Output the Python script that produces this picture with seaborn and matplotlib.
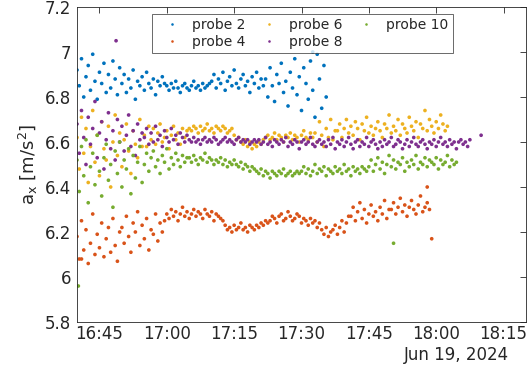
import numpy as np
import pandas as pd
import matplotlib
matplotlib.use('Agg')
import matplotlib.pyplot as plt
import seaborn as sns

# ---------------- data ----------------
series_names = ['probe 2', 'probe 4', 'probe 6', 'probe 8', 'probe 10']
series_colors = ['#0072BD', '#D95319', '#EDB120', '#7E2F8E', '#77AC30']
start_time = '2024-06-19 16:40:00'
sample_step_min = 0.5  # sampling interval (minutes)

probe2 = [6.92, 6.85, 6.97, 6.80, 6.89, 6.94, 6.83, 6.99, 6.87, 6.79, 6.91, 6.86, 6.95, 6.82, 6.90, 6.84, 6.96, 6.88, 6.81, 6.93,
          6.86, 6.90, 6.82, 6.88, 6.84, 6.92, 6.79, 6.87, 6.85, 6.89, 6.83, 6.91, 6.86, 6.84, 6.88, 6.81, 6.87, 6.85, 6.89, 6.86,
          6.85, 6.83, 6.86, 6.84, 6.87, 6.84, 6.82, 6.85, 6.86, 6.84, 6.83, 6.85, 6.87, 6.84, 6.85, 6.83, 6.86, 6.84, 6.85, 6.86,
          6.87, 6.90, 6.84, 6.88, 6.86, 6.91, 6.83, 6.87, 6.89, 6.85, 6.92, 6.86, 6.84, 6.88, 6.90, 6.85, 6.87, 6.82, 6.89, 6.86,
          6.91, 6.84, 6.88, 6.85,
          6.88, 6.80, 6.93, 6.85, 6.78, 6.90, 6.86, 6.95, 6.82, 6.87, 6.76, 6.91, 6.84, 6.97, 6.81, 6.89, 6.74, 6.93, 6.86, 6.79,
          6.96, 6.83, 6.71, 6.99, 6.88, 6.75, 6.94, 6.80]

probe4 = [6.18, 6.08, 6.25, 6.12, 6.21, 6.06, 6.15, 6.28, 6.10, 6.19, 6.13, 6.24, 6.09, 6.17, 6.22, 6.11, 6.26, 6.14, 6.07, 6.20,
          6.22, 6.15, 6.27, 6.18, 6.11, 6.24, 6.20, 6.29, 6.14, 6.23, 6.17, 6.26, 6.12, 6.21, 6.19, 6.28, 6.16, 6.24, 6.20, 6.25,
          6.28, 6.26, 6.30, 6.27, 6.29, 6.25, 6.28, 6.31, 6.27, 6.29, 6.26, 6.28, 6.30, 6.27, 6.29, 6.28, 6.26, 6.30, 6.28, 6.27,
          6.29, 6.25, 6.28, 6.27, 6.26, 6.25,
          6.23, 6.21, 6.22, 6.20, 6.23, 6.21, 6.22, 6.24, 6.21, 6.22, 6.20, 6.23, 6.22, 6.21, 6.23, 6.22, 6.24, 6.23, 6.25, 6.24,
          6.25, 6.27, 6.26, 6.24, 6.27, 6.28, 6.25, 6.26, 6.29, 6.27, 6.25, 6.26, 6.28, 6.27, 6.24, 6.26, 6.25, 6.23, 6.26, 6.24,
          6.25, 6.22, 6.24, 6.21, 6.19, 6.22, 6.18, 6.20, 6.21, 6.23, 6.19, 6.22, 6.25, 6.20, 6.24, 6.27,
          6.27, 6.31, 6.25, 6.29, 6.33, 6.26, 6.30, 6.24, 6.28, 6.32, 6.27, 6.29, 6.25, 6.31, 6.28, 6.34, 6.26, 6.30,
          6.30, 6.33, 6.28, 6.31, 6.35, 6.29, 6.32, 6.27, 6.31, 6.34, 6.30, 6.28, 6.32, 6.36, 6.29, 6.31, 6.33, 6.30]

probe6 = [6.62, 6.48, 6.71, 6.55, 6.66, 6.42, 6.58, 6.74, 6.51, 6.63, 6.45, 6.69, 6.57, 6.52, 6.67, 6.40, 6.60, 6.72, 6.54, 6.64,
          6.49, 6.61, 6.68, 6.56, 6.46, 6.65, 6.59, 6.53, 6.70, 6.58,
          6.63, 6.58, 6.67, 6.61, 6.66, 6.59, 6.64, 6.68, 6.60, 6.62, 6.65, 6.57, 6.63, 6.67, 6.61, 6.64, 6.59, 6.66, 6.62, 6.65,
          6.66, 6.65, 6.67, 6.66, 6.64, 6.67, 6.65, 6.66, 6.68, 6.65, 6.66, 6.64, 6.67, 6.66, 6.65, 6.67, 6.66, 6.64, 6.65, 6.66,
          6.63, 6.61, 6.62, 6.60, 6.59, 6.61, 6.58, 6.60, 6.57, 6.59, 6.58, 6.60, 6.59, 6.61,
          6.62, 6.63, 6.61, 6.62, 6.64, 6.61, 6.63, 6.62, 6.60, 6.63, 6.62, 6.64, 6.61, 6.63, 6.62, 6.60, 6.63, 6.65, 6.62, 6.61,
          6.64, 6.62,
          6.64, 6.60, 6.69, 6.63, 6.58, 6.66, 6.62, 6.70, 6.61, 6.65,
          6.65, 6.68, 6.62, 6.66, 6.70, 6.64, 6.67, 6.63, 6.69, 6.66, 6.61, 6.68, 6.65, 6.71, 6.64, 6.67, 6.63, 6.66, 6.69, 6.65,
          6.62, 6.68, 6.66, 6.72, 6.64, 6.67, 6.65, 6.70, 6.63, 6.68, 6.66, 6.64, 6.71, 6.67, 6.65, 6.69, 6.62, 6.68, 6.66, 6.74,
          6.65, 6.70, 6.67, 6.64, 6.69, 6.66, 6.72, 6.68, 6.65, 6.67]

probe8 = [6.68, 6.55, 6.74, 6.62, 6.50, 6.71, 6.59, 6.66, 6.78, 6.53, 6.64, 6.69, 6.48, 6.61, 6.73, 6.57, 6.65, 6.52, 6.70, 6.60,
          6.67, 6.56, 6.63, 6.72, 6.58, 6.65, 6.54, 6.68, 6.61, 6.64,
          6.62, 6.66, 6.59, 6.64, 6.60, 6.67, 6.61, 6.63, 6.58, 6.65, 6.62, 6.60, 6.66, 6.61, 6.63, 6.59, 6.64, 6.62, 6.60, 6.63,
          6.61, 6.60, 6.62, 6.60, 6.61, 6.59, 6.61, 6.62, 6.60, 6.61, 6.60, 6.62, 6.61, 6.59, 6.60, 6.61, 6.62, 6.60, 6.61, 6.60,
          6.59, 6.61, 6.62, 6.60, 6.61, 6.60, 6.61, 6.59, 6.60, 6.61,
          6.60, 6.61, 6.59, 6.60, 6.62, 6.59, 6.60, 6.58, 6.61, 6.60, 6.59, 6.61, 6.60, 6.62, 6.58, 6.60, 6.59, 6.61, 6.60, 6.57,
          6.60, 6.61, 6.59, 6.60, 6.62, 6.59, 6.58, 6.60, 6.61, 6.59,
          6.60, 6.58, 6.61, 6.59, 6.62, 6.57, 6.60, 6.59, 6.61, 6.58, 6.60, 6.62, 6.59, 6.57, 6.60, 6.61, 6.58, 6.60, 6.59, 6.62,
          6.58, 6.60, 6.61, 6.59, 6.57, 6.60, 6.58, 6.61, 6.59, 6.60, 6.62, 6.58, 6.59, 6.61, 6.60, 6.57, 6.59, 6.61, 6.58, 6.60,
          6.62, 6.59, 6.58, 6.60, 6.61, 6.59, 6.57, 6.60, 6.59, 6.61, 6.58, 6.60, 6.62, 6.59, 6.60, 6.58, 6.61, 6.59, 6.60, 6.57,
          6.60, 6.61, 6.59, 6.60, 6.58, 6.61]

probe10 = [6.52, 6.38, 6.58, 6.45, 6.61, 6.33, 6.49, 6.55, 6.41, 6.63, 6.47, 6.36, 6.53, 6.59, 6.43, 6.50, 6.31, 6.56, 6.46, 6.60,
           6.40, 6.52, 6.48, 6.57, 6.37, 6.54, 6.44, 6.51, 6.58, 6.42,
           6.50, 6.55, 6.47, 6.53, 6.56, 6.49, 6.52, 6.46, 6.54, 6.51, 6.57, 6.48, 6.53, 6.50, 6.55, 6.52, 6.49, 6.54, 6.51, 6.53,
           6.53, 6.51, 6.54, 6.52, 6.50, 6.53, 6.52, 6.55, 6.51, 6.53, 6.52, 6.50, 6.52, 6.51, 6.53, 6.50, 6.52, 6.49, 6.51, 6.50,
           6.52, 6.50, 6.49, 6.51, 6.48, 6.50, 6.49, 6.47, 6.49, 6.48,
           6.47, 6.46, 6.48, 6.45, 6.47, 6.46, 6.44, 6.47, 6.46, 6.45, 6.47, 6.46, 6.48, 6.45, 6.46, 6.47, 6.45, 6.46, 6.47, 6.46,
           6.47, 6.49, 6.46, 6.48, 6.45, 6.47, 6.50, 6.46, 6.48, 6.47, 6.49, 6.45, 6.48, 6.47, 6.46, 6.49, 6.47, 6.48, 6.46, 6.50,
           6.47, 6.48, 6.45, 6.49, 6.47, 6.48, 6.46, 6.49, 6.48, 6.47,
           6.49, 6.52, 6.47, 6.50, 6.53, 6.48, 6.51, 6.46, 6.50, 6.54, 6.49, 6.52, 6.48, 6.51, 6.50, 6.53, 6.47, 6.51, 6.49, 6.52,
           6.50, 6.54, 6.48, 6.51, 6.50, 6.53, 6.49, 6.52, 6.51, 6.50, 6.53, 6.48, 6.52, 6.50, 6.51, 6.54, 6.49, 6.52, 6.50, 6.51]

# isolated readings (probe, minutes after start, value)
outlier_probe = ['probe 4', 'probe 4', 'probe 4', 'probe 10', 'probe 10', 'probe 8', 'probe 8', 'probe 2']
outlier_min = [1.0, 78.0, 79.0, 0.3, 70.5, 90.0, 8.7, 52.5]
outlier_val = [6.08, 6.40, 6.17, 5.96, 6.15, 6.63, 7.05, 7.0]

x_ticks = ['16:45', '17:00', '17:15', '17:30', '17:45', '18:00', '18:15']
y_ticks = [5.8, 6.0, 6.2, 6.4, 6.6, 6.8, 7.0, 7.2]
y_tick_labels = ['5.8', '6', '6.2', '6.4', '6.6', '6.8', '7', '7.2']
date_label = 'Jun 19, 2024'

# ---------------- build frame ----------------
t0 = pd.Timestamp(start_time)
series_values = [probe2, probe4, probe6, probe8, probe10]
frames = []
for name, vals in zip(series_names, series_values):
    mins = np.arange(len(vals)) * sample_step_min
    frames.append(pd.DataFrame({'time': t0 + pd.to_timedelta(mins, unit='m'),
                                'ax': vals, 'probe': name}))
frames.append(pd.DataFrame({'time': t0 + pd.to_timedelta(outlier_min, unit='m'),
                            'ax': outlier_val, 'probe': outlier_probe}))
df = pd.concat(frames, ignore_index=True)
df['probe'] = pd.Categorical(df['probe'], categories=series_names, ordered=True)
df = df.sort_values('probe', kind='stable')

# ---------------- plot ----------------
sns.set_style('white')
plt.rcParams['font.family'] = ['DejaVu Sans']
ink = '#262626'

fig = plt.figure(figsize=(5.29, 3.72), dpi=100)
ax = fig.add_axes([77/529, 1 - 322/372, 449/529, 315/372])

sns.scatterplot(data=df, x='time', y='ax', hue='probe', hue_order=series_names,
                palette=series_colors, s=7, linewidth=0, ax=ax, legend=True)

ax.set_xlim(pd.Timestamp('2024-06-19 16:40'), pd.Timestamp('2024-06-19 18:20'))
ax.set_ylim(5.8, 7.2)
ax.set_xticks([pd.Timestamp('2024-06-19 ' + s) for s in x_ticks])
ax.set_xticklabels(x_ticks)
ax.set_yticks(y_ticks)
ax.set_yticklabels(y_tick_labels)
ax.tick_params(direction='in', top=True, right=True, length=4, width=0.6,
               labelsize=12, colors=ink)
ax.tick_params(axis='x', pad=2.5)
ax.tick_params(axis='y', pad=4)
for sp in ax.spines.values():
    sp.set_color(ink)
    sp.set_linewidth(0.6)
ax.set_xlabel('')
ax.set_ylabel(r'a$_\mathregular{x}$ [m/s$^\mathregular{2}$]', fontsize=13, color=ink, labelpad=4)
ax.text(0.962, -0.121, date_label, transform=ax.transAxes, ha='right', va='baseline',
        fontsize=12, color=ink)

handles, labels = ax.get_legend_handles_labels()
leg = ax.legend(handles, labels, ncol=3, loc='upper center', bbox_to_anchor=(0.502, 0.978),
                borderaxespad=0, fontsize=10, frameon=True, fancybox=False, edgecolor=ink,
                handlelength=2.2, columnspacing=0.6, handletextpad=0.35,
                borderpad=0.3, labelspacing=0.2, markerscale=0.7)
leg.get_frame().set_linewidth(0.6)

fig.savefig('out.png', dpi=100)
